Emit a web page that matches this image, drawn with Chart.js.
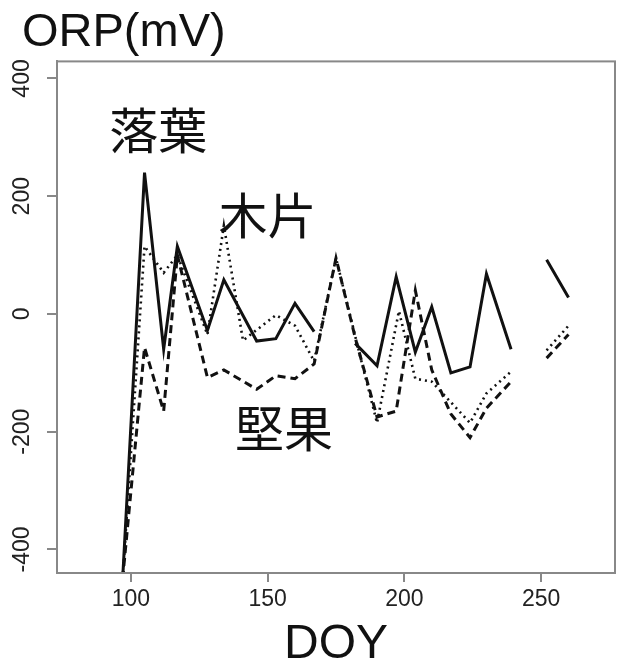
<!DOCTYPE html>
<html>
<head>
<meta charset="utf-8">
<title>ORP</title>
<style>
    body {
        margin: 0;
        background-color: #ffffff;
    }
</style>
<script src="https://cdn.jsdelivr.net/npm/chart.js"></script>
</head>
<body>
<canvas id="orpChart" width="625" height="669"></canvas>
<script>
    // 落葉 (solid line)
    var ochibaDoy = [97, 105, 112, 117, 128, 134, 146, 153, 160, 167, 175, 182, 190, 197, 204, 210, 217, 224, 230, 239, 245, 252, 260];
    var ochibaOrp = [-450, 240, -60, 115, -28, 58, -46, -42, 18, -30, null, -50, -88, 63, -65, 12, -100, -90, 68, -60, null, 92, 28];

    // 木片 (dotted line)
    var mokuhenDoy = [97, 105, 112, 117, 128, 134, 141, 153, 160, 167, 175, 184, 190, 198, 204, 210, 217, 224, 230, 239, 245, 252, 260];
    var mokuhenOrp = [-450, 115, 70, 100, -35, 150, -45, -2, -20, -80, 95, -75, -185, 5, -110, -115, -150, -185, -135, -98, null, -62, -20];

    // 堅果 (dashed line)
    var kenkaDoy = [97, 105, 112, 117, 128, 134, 146, 153, 160, 167, 175, 182, 190, 197, 204, 210, 217, 224, 230, 239, 245, 252, 260];
    var kenkaOrp = [-450, -57, -165, 100, -108, -95, -128, -105, -110, -85, 95, -40, -175, -165, 40, -95, -170, -210, -160, -115, null, -75, -35];

    var xTicks = [100, 150, 200, 250];
    var yTicks = [-400, -200, 0, 200, 400];

    // series names written inside the plot, anchored in data units
    var seriesNames = ['落葉', '木片', '堅果'];
    var nameDoy = [110, 150, 156];
    var nameOrp = [311, 168, -194];

    var latin = '"Liberation Sans", Arial, sans-serif';

    function toPoints(doy, orp) {
        return doy.map(function (d, i) {
            return { x: d, y: orp[i] };
        });
    }

    var framePlugin = {
        id: 'frame',
        afterDraw: function (chart) {
            var ctx = chart.ctx;
            var a = chart.chartArea;
            ctx.save();
            ctx.strokeStyle = '#888888';
            ctx.lineWidth = 2;
            ctx.strokeRect(a.left, a.top, a.right - a.left, a.bottom - a.top);

            // y tick labels, turned like in R (las = 0)
            ctx.font = '23px ' + latin;
            ctx.fillStyle = '#222222';
            ctx.textAlign = 'center';
            ctx.textBaseline = 'middle';
            yTicks.forEach(function (v) {
                var y = chart.scales.y.getPixelForValue(v);
                ctx.save();
                ctx.translate(23, y);
                ctx.rotate(-Math.PI / 2);
                ctx.fillText(String(v), 0, 0);
                ctx.restore();
            });

            // series names
            ctx.font = '49px "Noto Sans CJK JP", sans-serif';
            ctx.fillStyle = '#111111';
            seriesNames.forEach(function (name, i) {
                var x = chart.scales.x.getPixelForValue(nameDoy[i]);
                var y = chart.scales.y.getPixelForValue(nameOrp[i]);
                ctx.fillText(name, x, y);
            });
            ctx.restore();
        }
    };

    new Chart(document.getElementById('orpChart'), {
        type: 'line',
        data: {
            datasets: [{
                label: '落葉',
                data: toPoints(ochibaDoy, ochibaOrp),
                borderColor: '#111111',
                borderWidth: 3,
                pointRadius: 0,
                fill: false
            }, {
                label: '木片',
                data: toPoints(mokuhenDoy, mokuhenOrp),
                borderColor: '#111111',
                borderWidth: 2.6,
                borderDash: [2, 4],
                pointRadius: 0,
                fill: false
            }, {
                label: '堅果',
                data: toPoints(kenkaDoy, kenkaOrp),
                borderColor: '#111111',
                borderWidth: 3,
                borderDash: [8, 5],
                pointRadius: 0,
                fill: false
            }]
        },
        options: {
            responsive: false,
            animation: false,
            devicePixelRatio: 1,
            spanGaps: false,
            layout: {
                padding: { left: 22, right: 10, top: 0, bottom: 0 }
            },
            plugins: {
                legend: { display: false },
                tooltip: { enabled: false },
                title: {
                    display: true,
                    text: 'ORP(mV)',
                    align: 'start',
                    color: '#111111',
                    font: { family: latin, size: 47, weight: 'normal' },
                    padding: { top: 5, bottom: 0 }
                }
            },
            scales: {
                x: {
                    type: 'linear',
                    min: 73,
                    max: 277,
                    afterBuildTicks: function (s) {
                        s.ticks = xTicks.map(function (v) { return { value: v }; });
                    },
                    afterFit: function (s) { s.height = 96; },
                    ticks: {
                        color: '#222222',
                        font: { family: latin, size: 23 },
                        padding: 4,
                        maxRotation: 0
                    },
                    grid: {
                        drawOnChartArea: false,
                        drawTicks: true,
                        tickLength: 9,
                        color: '#888888',
                        lineWidth: 2
                    },
                    border: { display: true, color: '#888888', width: 2 },
                    title: {
                        display: true,
                        text: 'DOY',
                        color: '#111111',
                        font: { family: latin, size: 48, lineHeight: 1 },
                        padding: 0
                    }
                },
                y: {
                    min: -440,
                    max: 429,
                    afterBuildTicks: function (s) {
                        s.ticks = yTicks.map(function (v) { return { value: v }; });
                    },
                    afterFit: function (s) { s.width = 35; },
                    ticks: { display: false },
                    grid: {
                        drawOnChartArea: false,
                        drawTicks: true,
                        tickLength: 10,
                        color: '#888888',
                        lineWidth: 2
                    },
                    border: { display: true, color: '#888888', width: 2 }
                }
            }
        },
        plugins: [framePlugin]
    });
</script>
</body>
</html>
